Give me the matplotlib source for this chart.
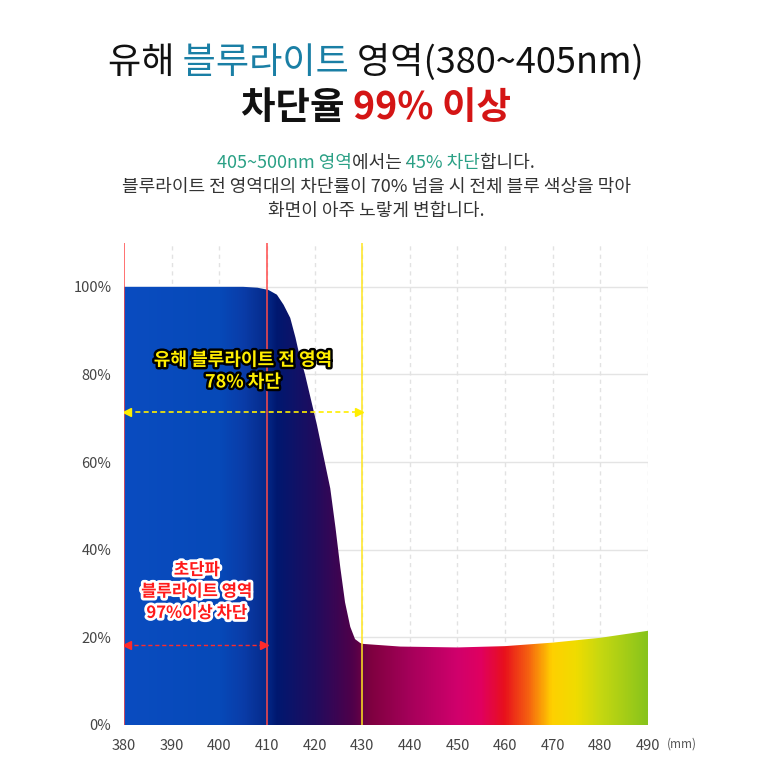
import numpy as np
import matplotlib
matplotlib.use("Agg")
import matplotlib.pyplot as plt
from matplotlib.colors import LinearSegmentedColormap, to_rgb
from matplotlib.patches import Polygon
from matplotlib.transforms import Bbox
import matplotlib.patheffects as pe

plt.rcParams['font.family'] = ['Noto Sans CJK KR', 'DejaVu Sans']

# blocking curve (nm, %)
wl = [380, 405, 408, 410.3, 412.1, 413.5, 414.9, 416, 416.6, 418, 420.5, 423.3, 424.4, 425.4,
      426.4, 427.5, 428.5, 429.6, 430.3, 438, 450, 460, 470, 480, 490]
block = [100, 100, 99.8, 99.3, 98.2, 95.9, 92.9, 88.4, 85.5, 80, 68.5, 54, 45, 36,
         28, 22.4, 19.6, 18.7, 18.5, 17.9, 17.7, 18.0, 18.8, 19.9, 21.5]

# spectrum fill colours (nm, colour)
grad_nm = [380, 400, 405, 409.5, 412, 420, 428, 432, 440, 450, 455, 460, 465, 470, 475, 480, 490]
grad_col = ['#0a4cc0', '#0649b8', '#0a3ca8', '#052b8c', '#001870', '#200c5e', '#50004a',
            '#800040', '#a5005a', '#d0006c', '#e00060', '#e8101c', '#f56010', '#ffd000',
            '#f0dc00', '#c8d810', '#88c41c']

xticks = list(range(380, 491, 10))
yticks = [0, 20, 40, 60, 80, 100]
ytick_labels = ['0%', '20%', '40%', '60%', '80%', '100%']

red_lines = [380, 410]
yellow_lines = [430]
yellow_arrow = (380, 430, 71.5)
red_arrow = (380, 410, 18.3)

fig = plt.figure(figsize=(7.68, 7.68), dpi=100)
ax = fig.add_axes([124/768, 43/768, 524/768, 482/768])
ax.set_xlim(380, 490)
ax.set_ylim(0, 110)

# grid
for y in yticks[1:]:
    ax.axhline(y, color='#e4e4e4', lw=1, zorder=0)
for x in xticks[1:]:
    ax.axvline(x, color='#e2e2e2', lw=1, ls=(0, (3, 3)), zorder=0)

# gradient under the curve
pos = [(v - 380) / 110 for v in grad_nm]
cmap = LinearSegmentedColormap.from_list('spec', list(zip(pos, [to_rgb(c) for c in grad_col])))
img = cmap(np.linspace(0, 1, 1100))[None, :, :3]
im = ax.imshow(img, extent=[380, 490, 0, 110], aspect='auto', zorder=1, interpolation='bilinear')
poly = Polygon(list(zip(wl, block)) + [(490, 0), (380, 0)], closed=True, facecolor='none',
               edgecolor='none', transform=ax.transData)
ax.add_patch(poly)
im.set_clip_path(poly)

for x in red_lines:
    ax.axvline(x, color='#ff4a4a', lw=1.1, zorder=3)
for x in yellow_lines:
    ax.axvline(x, color='#ffe620', lw=1.1, zorder=3)

# arrows
x0, x1, y = yellow_arrow
ax.plot([x0 + 0.6, x1 - 0.6], [y, y], color='#ffee00', lw=1.2, ls=(0, (3, 2)), zorder=4)
ax.plot([x0 + 0.6], [y], marker='<', color='#ffee00', ms=6, zorder=4)
ax.plot([x1 - 0.6], [y], marker='>', color='#ffee00', ms=6, zorder=4)
x0, x1, y = red_arrow
ax.plot([x0 + 0.6, x1 - 0.6], [y, y], color='#ff2a2a', lw=1.0, ls=(0, (3, 2)), zorder=4)
ax.plot([x0 + 0.6], [y], marker='<', color='#ff2a2a', ms=6, zorder=4)
ax.plot([x1 - 0.6], [y], marker='>', color='#ff2a2a', ms=6, zorder=4)

ax.text(405, 80.8, '유해 블루라이트 전 영역\n78% 차단', ha='center', va='center', fontsize=13,
        weight='bold', color='#ffee00', linespacing=1.2, zorder=5,
        path_effects=[pe.withStroke(linewidth=3.5, foreground='black')])
ax.text(395.3, 30.5, '초단파\n블루라이트 영역\n97%이상 차단', ha='center', va='center', fontsize=12,
        weight='bold', color='#ff1a1a', linespacing=1.25, zorder=5,
        path_effects=[pe.withStroke(linewidth=4, foreground='white')])

ax.set_xticks(xticks)
ax.set_yticks(yticks)
ax.set_yticklabels(ytick_labels)
ax.tick_params(length=0, labelsize=10.5, colors='#444444')
ax.tick_params(axis='x', pad=10)
ax.tick_params(axis='y', pad=9)
for s in ax.spines.values():
    s.set_visible(False)
ax.text(1.065, -0.04, '(mm)', transform=ax.transAxes, fontsize=8.5, color='#555555',
        ha='center', va='center')


def rich_line(yc, parts, size, weight, xc=376):
    # the whole line is drawn once per piece, each copy clipped to its own piece
    full = ''.join(s for s, _ in parts)
    W = fig.bbox.width
    probe = fig.text(0, 0, full, fontsize=size, weight=weight)
    fig.canvas.draw()
    r = fig.canvas.get_renderer()
    prop = probe.get_fontproperties()
    probe.remove()
    total = r.get_text_width_height_descent(full, prop, ismath=False)[0]
    left = xc - total / 2
    edges = [-1e4]
    prefix = ''
    for s, _ in parts[:-1]:
        prefix += s
        edges.append(left + r.get_text_width_height_descent(prefix, prop, ismath=False)[0] + 0.8)
    edges.append(1e4)
    for i, (s, c) in enumerate(parts):
        t = fig.text(xc / W, yc, full, color=c, fontsize=size, weight=weight,
                     ha='center', va='center')
        t.set_clip_box(Bbox([[edges[i], 0], [edges[i + 1], fig.bbox.height]]))
        t.set_clip_on(True)


rich_line(1 - 62/768, [('유해 ', '#111111'), ('블루라이트', '#1a7fa5'), (' 영역(380~405nm)', '#111111')],
          26, 'normal')
rich_line(1 - 107/768, [('차단율 ', '#111111'), ('99% 이상', '#d41515')], 27, 'bold')
rich_line(1 - 163/768, [('405~500nm 영역', '#2aa085'), ('에서는 ', '#333333'), ('45% 차단', '#2aa085'),
                        ('합니다.', '#333333')], 13, 'normal')
rich_line(1 - 187/768, [('블루라이트 전 영역대의 차단률이 70% 넘을 시 전체 블루 색상을 막아', '#333333')],
          13, 'normal')
rich_line(1 - 211/768, [('화면이 아주 노랗게 변합니다.', '#333333')], 13, 'normal')

fig.savefig('out.png', dpi=100, facecolor='white')
